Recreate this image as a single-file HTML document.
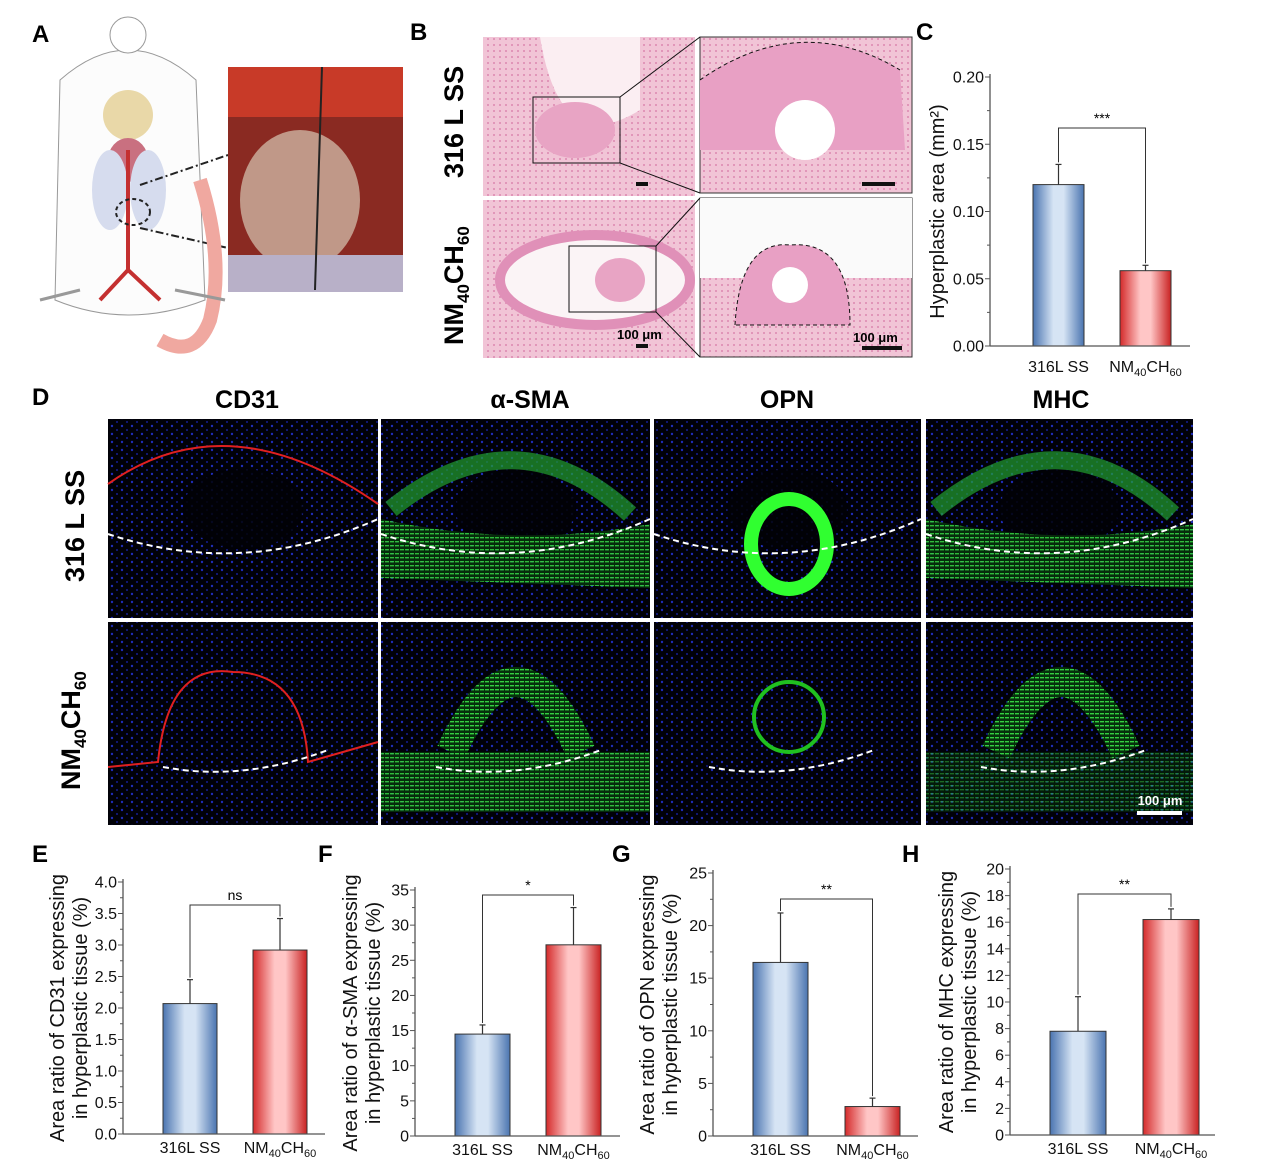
<!DOCTYPE html>
<html><head><meta charset="utf-8"><style>
body{margin:0;background:#fff;width:1269px;height:1164px;overflow:hidden;font-family:"Liberation Sans",sans-serif}
svg{position:absolute;left:0;top:0}
</style></head><body>
<svg id="fig" width="1269" height="1164" xmlns="http://www.w3.org/2000/svg" font-family="Liberation Sans, sans-serif">
<defs>
<linearGradient id="gb" x1="0" x2="1"><stop offset="0" stop-color="#4a74b0"/><stop offset="0.4" stop-color="#d6e4f4"/><stop offset="0.6" stop-color="#d6e4f4"/><stop offset="1" stop-color="#4a74b0"/></linearGradient>
<linearGradient id="gr" x1="0" x2="1"><stop offset="0" stop-color="#d42a2a"/><stop offset="0.4" stop-color="#ffc6c6"/><stop offset="0.6" stop-color="#ffc6c6"/><stop offset="1" stop-color="#c92222"/></linearGradient>
<pattern id="dots" width="10" height="8" patternUnits="userSpaceOnUse"><rect width="10" height="8" fill="#010108"/><circle cx="2" cy="2" r="1.2" fill="#1e2cb8"/><circle cx="7" cy="6" r="1" fill="#141e90"/></pattern>
<pattern id="pink" width="6" height="6" patternUnits="userSpaceOnUse"><rect width="6" height="6" fill="#f1c4d6"/><circle cx="2" cy="3" r="1" fill="#dc88b0"/></pattern>
<pattern id="green" width="5" height="4" patternUnits="userSpaceOnUse"><rect width="5" height="4" fill="#06300c"/><rect x="0" y="1" width="4" height="1.4" fill="#34d040"/></pattern>
</defs>
<g font-weight="bold" font-size="24">
<text x="32" y="42">A</text><text x="410" y="40">B</text><text x="916" y="40">C</text><text x="32" y="405">D</text>
<text x="32" y="862">E</text><text x="318" y="862">F</text><text x="612" y="862">G</text><text x="902" y="862">H</text>
</g>
<g>
<path d="M60 80 Q128 20 196 80 L205 300 Q128 330 55 300 Z" fill="#fcfcfc" stroke="#999"/>
<ellipse cx="128" cy="115" rx="25" ry="25" fill="#e9d8a8"/>
<ellipse cx="128" cy="160" rx="20" ry="22" fill="#c97080"/>
<ellipse cx="110" cy="190" rx="18" ry="40" fill="#d6dcee"/><ellipse cx="148" cy="190" rx="18" ry="40" fill="#d6dcee"/>
<path d="M128 150 L128 270 L100 300 M128 270 L160 300" stroke="#c43030" stroke-width="4" fill="none"/>
<ellipse cx="133" cy="212" rx="17" ry="13" fill="none" stroke="#222" stroke-dasharray="4 3" stroke-width="2"/>
<path d="M140 185 L228 155 M140 228 L228 248" stroke="#222" stroke-width="2" stroke-dasharray="8 3 2 3"/>
<path d="M200 180 Q225 260 210 320 Q195 360 160 340" stroke="#f0a8a0" stroke-width="14" fill="none"/>
<path d="M40 300 L80 290 M175 290 L225 300" stroke="#999" stroke-width="3"/>
<circle cx="128" cy="35" r="18" fill="#fff" stroke="#999"/>
</g>
<g>
<rect x="228" y="67" width="175" height="225" fill="#8a2a22"/>
<rect x="228" y="67" width="175" height="50" fill="#c83a28"/>
<ellipse cx="300" cy="200" rx="60" ry="70" fill="#c09888"/>
<rect x="228" y="255" width="175" height="37" fill="#b8b0c8"/>
<line x1="322" y1="67" x2="315" y2="290" stroke="#222" stroke-width="2"/>
</g>
<g>
<rect x="483" y="37" width="212" height="159" fill="url(#pink)"/>
<rect x="700" y="37" width="212" height="156" fill="url(#pink)" stroke="#333"/>
<rect x="483" y="200" width="212" height="158" fill="url(#pink)"/>
<rect x="700" y="198" width="212" height="159" fill="url(#pink)" stroke="#333"/>
<path d="M540 37 Q560 160 640 110 L640 37 Z" fill="#fbeef2"/>
<ellipse cx="575" cy="130" rx="40" ry="28" fill="#e8a4c4"/>
<rect x="533" y="97" width="87" height="66" fill="none" stroke="#111"/>
<ellipse cx="595" cy="280" rx="95" ry="45" fill="#fbf4f6" stroke="#e090b8" stroke-width="10"/>
<ellipse cx="620" cy="280" rx="25" ry="22" fill="#e8a4c4"/>
<rect x="569" y="246" width="87" height="66" fill="none" stroke="#111"/>
<path d="M700 80 Q800 10 900 70 L905 150 L700 150 Z" fill="#e8a0c4"/>
<circle cx="805" cy="130" r="30" fill="#fff"/>
<path d="M700 80 Q800 10 900 70" stroke="#111" fill="none" stroke-dasharray="4 3"/>
<rect x="700" y="198" width="212" height="80" fill="#fafafa"/>
<path d="M735 325 Q740 240 790 245 Q850 240 850 325 Z" fill="#e8a0c4" stroke="#111" stroke-dasharray="4 3"/>
<circle cx="790" cy="285" r="18" fill="#fff"/>
<path d="M620 97 L700 37 M620 163 L700 193 M656 246 L700 198 M656 312 L700 357" stroke="#111"/>
<g font-size="13" font-weight="bold"><text x="617" y="339">100 μm</text><text x="853" y="342">100 μm</text></g>
<rect x="636" y="344" width="12" height="4" fill="#111"/><rect x="862" y="346" width="40" height="4" fill="#111"/>
<rect x="636" y="182" width="12" height="4" fill="#111"/><rect x="862" y="182" width="33" height="4" fill="#111"/>
</g>
<g font-weight="bold" font-size="27">
<text transform="translate(463,178) rotate(-90)">316 L SS</text>
<text transform="translate(463,345) rotate(-90)">NM<tspan font-size="17" dy="6">40</tspan><tspan dy="-6">CH</tspan><tspan font-size="17" dy="6">60</tspan></text>
<text transform="translate(84,582) rotate(-90)">316 L SS</text>
<text transform="translate(80,790) rotate(-90)">NM<tspan font-size="17" dy="6">40</tspan><tspan dy="-6">CH</tspan><tspan font-size="17" dy="6">60</tspan></text>
</g>
<g font-weight="bold" font-size="25" text-anchor="middle">
<text x="247" y="408">CD31</text><text x="530" y="408">α-SMA</text><text x="787" y="408">OPN</text><text x="1061" y="408">MHC</text>
</g>
<g id="fluo"></g>
<g id="charts"></g>
</svg>
<script>
const NS='http://www.w3.org/2000/svg';
function mk(p,t,a){const e=document.createElementNS(NS,t);for(const k in a)e.setAttribute(k,a[k]);p.appendChild(e);return e;}
const fl=document.getElementById('fluo');
const cols=[108,381,654,926],ws=[270,269,267,267];
const rows=[419,622],hs=[199,203];
for(let r=0;r<2;r++)for(let c=0;c<4;c++){
 const x=cols[c],y=rows[r],w=ws[c],h=hs[r];
 mk(fl,'rect',{x:x,y:y,width:w,height:h,fill:'url(#dots)'});
 if(r===0){
  mk(fl,'ellipse',{cx:x+w/2,cy:y+90,rx:60,ry:40,fill:'#010106',opacity:0.85});
  if(c===1||c===3){mk(fl,'path',{d:`M${x} ${y+100} Q${x+w/2} ${y+130} ${x+w} ${y+105} L${x+w} ${y+h-30} L${x} ${y+h-40} Z`,fill:'url(#green)',opacity:0.9});
   mk(fl,'path',{d:`M${x+10} ${y+90} Q${x+w/2} ${y-10} ${x+w-20} ${y+95}`,stroke:'#22a030','stroke-width':18,fill:'none',opacity:0.7});}
  if(c===2)mk(fl,'ellipse',{cx:x+135,cy:y+125,rx:38,ry:45,fill:'none',stroke:'#30ff30','stroke-width':14});
  if(c===0)mk(fl,'path',{d:`M${x} ${y+65} Q${x+120} ${y-20} ${x+w} ${y+85}`,stroke:'#e02020','stroke-width':2,fill:'none'});
  mk(fl,'path',{d:`M${x} ${y+115} Q${x+w/2} ${y+160} ${x+w} ${y+100}`,stroke:'#fff','stroke-width':2,'stroke-dasharray':'6 4',fill:'none'});
 }else{
  if(c===1||c===3){mk(fl,'rect',{x:x,y:y+130,width:w,height:60,fill:'url(#green)',opacity:c===1?0.9:0.5});
   mk(fl,'path',{d:`M${x+70} ${y+130} Q${x+135} ${y-10} ${x+200} ${y+130}`,stroke:'url(#green)','stroke-width':30,fill:'none'});}
  if(c===2)mk(fl,'circle',{cx:x+135,cy:y+95,r:35,fill:'none',stroke:'#20c020','stroke-width':4});
  if(c===0)mk(fl,'path',{d:`M${x} ${y+145} L${x+50} ${y+140} Q${x+60} ${y+40} ${x+125} ${y+50} Q${x+195} ${y+50} ${x+200} ${y+140} L${x+w} ${y+120}`,stroke:'#e02020','stroke-width':2,fill:'none'});
  mk(fl,'path',{d:`M${x+55} ${y+145} Q${x+135} ${y+160} ${x+220} ${y+128}`,stroke:'#fff','stroke-width':2,'stroke-dasharray':'6 4',fill:'none'});
 }
}
mk(fl,'rect',{x:1137,y:811,width:45,height:4,fill:'#fff'});
const st=mk(fl,'text',{x:1160,y:805,fill:'#fff','font-size':13,'font-weight':'bold','text-anchor':'middle'});st.textContent='100 μm';

const cats=['316L SS','NM40CH60'];
const valC=[0.120,0.056], errC=[0.135,0.060];
const valE=[2.07,2.92], errE=[2.45,3.42];
const valF=[14.5,27.2], errF=[15.8,32.5];
const valG=[16.5,2.8], errG=[21.2,3.6];
const valH=[7.8,16.2], errH=[10.4,17.0];
const ticksC=[0,0.05,0.10,0.15,0.20], ticksE=[0,0.5,1,1.5,2,2.5,3,3.5,4];
const ticksF=[0,5,10,15,20,25,30,35], ticksG=[0,5,10,15,20,25], ticksH=[0,2,4,6,8,10,12,14,16,18,20];
const sigs=['***','ns','*','**','**'];

const charts=[
 {name:'c',ax:990,x1:1190,y0:346,ymax:0.20,y1:77,vals:valC,errs:errC,ticks:ticksC,fmt:v=>v.toFixed(2),bars:[1033,1120],bw:51,sig:sigs[0],bracket:128,title:['Hyperplastic area (mm²)'],tx:944},
 {name:'e',ax:123,x1:325,y0:1134,ymax:4,y1:882,vals:valE,errs:errE,ticks:ticksE,fmt:v=>v.toFixed(1),bars:[163,253],bw:54,sig:sigs[1],bracket:905,title:['Area ratio of CD31 expressing','in hyperplastic tissue (%)'],tx:64},
 {name:'f',ax:415,x1:620,y0:1136,ymax:35,y1:890,vals:valF,errs:errF,ticks:ticksF,fmt:v=>v,bars:[455,546],bw:55,sig:sigs[2],bracket:895,title:['Area ratio of α-SMA expressing','in hyperplastic tissue (%)'],tx:357},
 {name:'g',ax:713,x1:918,y0:1136,ymax:25,y1:873,vals:valG,errs:errG,ticks:ticksG,fmt:v=>v,bars:[753,845],bw:55,sig:sigs[3],bracket:899,title:['Area ratio of OPN expressing','in hyperplastic tissue (%)'],tx:654},
 {name:'h',ax:1010,x1:1215,y0:1135,ymax:20,y1:869,vals:valH,errs:errH,ticks:ticksH,fmt:v=>v,bars:[1050,1143],bw:56,sig:sigs[4],bracket:894,title:['Area ratio of MHC expressing','in hyperplastic tissue (%)'],tx:953}
];
const root=document.getElementById('charts');
charts.forEach(ch=>{
 const g=mk(root,'g',{});
 
 
 const ys=v=>ch.y0-(v/ch.ymax)*(ch.y0-ch.y1);
 ch.vals.forEach((v,i)=>{
  const bx=ch.bars[i],cx=bx+ch.bw/2;
  const eb=mk(g,'line',{x1:cx,x2:cx,y1:ys(v),y2:ys(ch.errs[i]),stroke:'#333','stroke-width':1.2});
  
  
  mk(g,'line',{x1:cx-3,x2:cx+3,y1:ys(ch.errs[i]),y2:ys(ch.errs[i]),stroke:'#333','stroke-width':1.2});
  const b=mk(g,'rect',{x:bx,y:ys(v),width:ch.bw,height:ch.y0-ys(v),fill:i?'url(#gr)':'url(#gb)',stroke:'#333','stroke-width':1});
  
  
  const lb=mk(g,'text',{x:cx,y:ch.y0+(ch.name==='c'?26:19),'font-size':16,'text-anchor':'middle',fill:'#111'});
  
  
  if(i===0)lb.textContent=cats[0];else lb.innerHTML='NM<tspan font-size="11" dy="4">40</tspan><tspan dy="-4">CH</tspan><tspan font-size="11" dy="4">60</tspan>';
 });
 const c0=ch.bars[0]+ch.bw/2,c1=ch.bars[1]+ch.bw/2;
 mk(g,'path',{d:`M${c0} ${ys(ch.errs[0])-2} V${ch.bracket} H${c1} V${ys(ch.errs[1])-2}`,stroke:'#333',fill:'none','stroke-width':1});
 const s=mk(g,'text',{x:(c0+c1)/2,y:ch.bracket-5,'font-size':14,'text-anchor':'middle'});
 
 
 s.textContent=ch.sig;
 mk(g,'line',{x1:ch.ax,x2:ch.ax,y1:ch.y1-3,y2:ch.y0,stroke:'#555','stroke-width':1.3});
 mk(g,'line',{x1:ch.ax,x2:ch.x1,y1:ch.y0,y2:ch.y0,stroke:'#555','stroke-width':1.3});
 ch.ticks.forEach((t,k)=>{
  const y=ys(t);
  mk(g,'line',{x1:ch.ax-5,x2:ch.ax,y1:y,y2:y,stroke:'#555'});
  if(k<ch.ticks.length-1){const ym=ys((t+ch.ticks[k+1])/2);mk(g,'line',{x1:ch.ax-3,x2:ch.ax,y1:ym,y2:ym,stroke:'#555'});}
  const tl=mk(g,'text',{x:ch.ax-6,y:y+5.5,'font-size':16,'text-anchor':'end',fill:'#111'});
  
  
  tl.textContent=ch.fmt(t);
 });
 const my=(ch.y0+ch.y1)/2;
 ch.title.forEach((line,k)=>{
  const tt=mk(g,'text',{transform:`translate(${ch.tx+k*23},${my}) rotate(-90)`,'font-size':20,'text-anchor':'middle',fill:'#111'});
  
  
  tt.textContent=line;
 });
});
</script>
</body></html>
